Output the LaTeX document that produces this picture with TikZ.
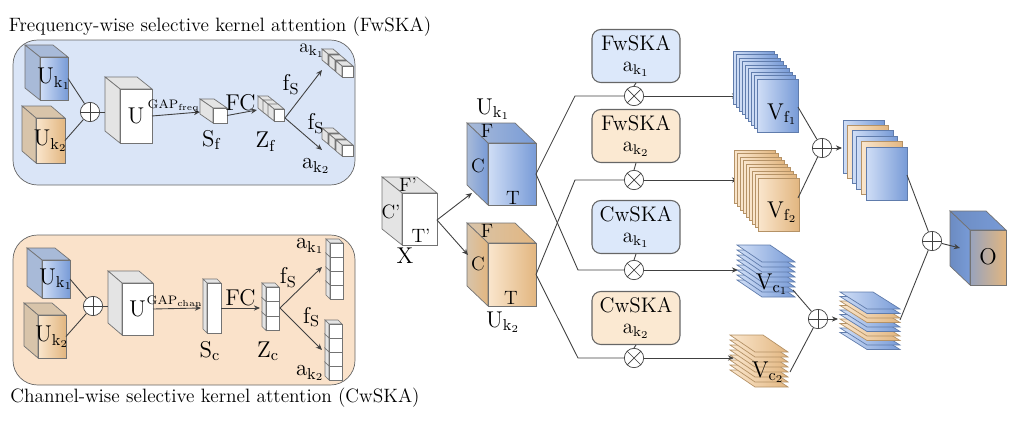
\documentclass[tikz,border=0pt]{standalone}
\usetikzlibrary{arrows.meta,shapes.geometric}
\definecolor{bluefr}{RGB}{120,155,215}
\definecolor{bluelt}{RGB}{208,222,246}
\definecolor{blueside}{RGB}{168,186,216}
\definecolor{tanfr}{RGB}{226,182,128}
\definecolor{tanlt}{RGB}{250,230,205}
\definecolor{tanside}{RGB}{216,196,170}
\definecolor{panelblue}{RGB}{218,229,247}
\definecolor{panelorange}{RGB}{250,226,202}
\definecolor{boxblue}{RGB}{220,232,250}
\definecolor{boxtan}{RGB}{251,233,210}
\definecolor{greyside}{RGB}{228,228,228}

% cuboid: name, x0, y0, x1, y1 (front face), dx, dy, front style, side style
\newcommand{\cuboid}[9]{%
  \draw[#9] (#2,#3) -- (#2-#6,#3-#7) -- (#4-#6,#3-#7) -- (#4,#3) -- cycle;
  \draw[#9] (#2,#3) -- (#2-#6,#3-#7) -- (#2-#6,#5-#7) -- (#2,#5) -- cycle;
  \draw[#8] (#2,#3) rectangle (#4,#5);
  \coordinate (#1) at ({(#2+#4)/2},{(#3+#5)/2});
  \coordinate (#1-r) at (#4,{(#3+#5)/2});
  \coordinate (#1-l) at ({#2-#6/2},{(#3+#5)/2-#7/2});
}
% stack of pages: front x0, y0, w, h, count, step x, step y, colour
\newcommand{\pagestack}[8]{%
  \foreach \i in {#5,...,0}
    \draw[draw=#8fr!80!black, left color=#8lt, right color=#8fr]
      (#1-\i*#6,#2-\i*#7) rectangle ++(#3,#4);
}

\tikzset{
  edge/.style={draw=black!75, line width=0.5pt},
  arr/.style={edge, -{Stealth[length=3.5pt,width=3pt]}},
  oplus/.style={circle, draw=black!75, fill=white, minimum size=11pt, inner sep=0pt,
    path picture={\draw[black!75] (path picture bounding box.north) -- (path picture bounding box.south)
      (path picture bounding box.west) -- (path picture bounding box.east);}},
  otimes/.style={circle, draw=black!75, fill=white, minimum size=11pt, inner sep=0pt,
    path picture={\draw[black!75] (path picture bounding box.north west) -- (path picture bounding box.south east)
      (path picture bounding box.south west) -- (path picture bounding box.north east);}},
  skabox/.style={draw=black!60, rounded corners=5pt, align=center,
    minimum width=1.76cm, minimum height=0.94cm, line width=0.6pt},
  lbl/.style={font=\fontsize{11}{12}\selectfont, inner sep=1pt},
  big/.style={font=\fontsize{13}{14}\selectfont, inner sep=1pt},
  small/.style={font=\scriptsize, inner sep=1pt},
  bluecube/.style={draw=black!55, left color=bluelt, right color=bluefr},
  bluesd/.style={draw=black!55, fill=blueside},
  tancube/.style={draw=black!55, left color=tanlt, right color=tanfr},
  tansd/.style={draw=black!55, fill=tanside},
  whcube/.style={draw=black!55, fill=white},
  whsd/.style={draw=black!55, fill=greyside},
}

\begin{document}
\begin{tikzpicture}[x=0.02cm,y=-0.02cm]
\useasboundingbox (0,0) rectangle (1022,426);

% ---- FwSKA panel
\node[lbl] (titlef) at (220,27) {Frequency-wise selective kernel attention (FwSKA)};
\draw[fill=panelblue, draw=black!60, rounded corners=14pt] (13,40) rectangle (355,185);
\cuboid{fu1}{40}{57}{68}{100}{15}{12}{bluecube}{bluesd}
\node[big] at (fu1) {U$_{\mathrm{k_1}}$};
\cuboid{fu2}{36}{118}{65}{163}{14}{12}{tancube}{tansd}
\node[big] at (fu2) {U$_{\mathrm{k_2}}$};
\node[oplus] (fp) at (90,112) {};
\draw[edge] (fu1-r) -- (fp);
\draw[edge] (fu2-r) -- (fp);
\cuboid{fu}{120}{89}{152}{143}{15}{12}{whcube}{whsd}
\node[big] at (fu) {U};
\draw[edge] (fp) -- (105,112);
\cuboid{fs}{213}{108}{227}{123}{13}{9}{whcube}{whsd}
\draw[arr] (fu-r) -- node[small, above, pos=0.45] {GAP$_{\mathrm{freq}}$} (200,112);
\node[big] at (212,140) {S$_{\mathrm{f}}$};
\foreach \i in {0,1,2}
  \cuboid{fz\i}{264+5*\i}{101+4*\i}{274+5*\i}{113+4*\i}{6}{5}{whcube}{whsd};
\draw[arr] (fs-r) -- node[big, above, pos=0.45] {FC} (257,110);
\node[big] at (266,142) {Z$_{\mathrm{f}}$};
\coordinate (fzo) at (285,118);
\foreach \i in {0,1,2}
  \cuboid{fa\i}{328+7*\i}{54+6*\i}{339+7*\i}{65+6*\i}{6}{5}{whcube}{whsd};
\foreach \i in {0,1,2}
  \cuboid{fb\i}{328+7*\i}{133+6*\i}{339+7*\i}{144+6*\i}{6}{5}{whcube}{whsd};
\draw[arr] (fzo) -- node[big, above left, pos=0.45] {f$_{\mathrm{S}}$} (322,70);
\draw[arr] (fzo) -- node[big, above right, pos=0.55] {f$_{\mathrm{S}}$} (322,150);
\node[lbl] at (312,51) {a$_{\mathrm{k_1}}$};
\node[big] at (316,166) {a$_{\mathrm{k_2}}$};

% ---- CwSKA panel
\draw[fill=panelorange, draw=black!60, rounded corners=14pt] (13,235) rectangle (355,385);
\node[lbl] (titlec) at (215,398) {Channel-wise selective kernel attention (CwSKA)};
\cuboid{cu1}{42}{260}{70}{298}{15}{12}{bluecube}{bluesd}
\node[big] at (cu1) {U$_{\mathrm{k_1}}$};
\cuboid{cu2}{38}{315}{66}{358}{14}{12}{tancube}{tansd}
\node[big] at (cu2) {U$_{\mathrm{k_2}}$};
\node[oplus] (cp) at (93,306) {};
\draw[edge] (cu1-r) -- (cp);
\draw[edge] (cu2-r) -- (cp);
\cuboid{cu}{122}{283}{153}{335}{14}{12}{whcube}{whsd}
\node[big] at (cu) {U};
\draw[edge] (cp) -- (108,306);
\cuboid{cs}{207}{283}{221}{333}{4}{4}{whcube}{whsd}
\draw[arr] (cu-r) -- node[small, above, pos=0.45] {GAP$_{\mathrm{chan}}$} (201,308);
\node[big] at (210,351) {S$_{\mathrm{c}}$};
\foreach \i in {2,1,0}
  \cuboid{cz\i}{266}{287+14.5*\i}{279}{301.5+14.5*\i}{4}{4}{whcube}{whsd};
\draw[arr] (cs-r) -- node[big, above] {FC} (260,308);
\node[big] at (268,351) {Z$_{\mathrm{c}}$};
\coordinate (czo) at (280,308);
\foreach \i in {3,2,1,0}
  \cuboid{ca\i}{330}{243+14*\i}{343}{257+14*\i}{4}{4}{whcube}{whsd};
\foreach \i in {3,2,1,0}
  \cuboid{cb\i}{329}{324+14*\i}{342}{338+14*\i}{4}{4}{whcube}{whsd};
\draw[arr] (czo) -- node[big, above left, pos=0.45] {f$_{\mathrm{S}}$} (322,267);
\draw[arr] (czo) -- node[big, above right, pos=0.5] {f$_{\mathrm{S}}$} (322,350);
\node[big] at (310,246) {a$_{\mathrm{k_1}}$};
\node[big] at (310,373) {a$_{\mathrm{k_2}}$};

% ---- main branch
\cuboid{x}{402}{193}{437}{245}{20}{16}{whcube}{whsd}
\node[lbl] at (408,185) {F'};
\node[lbl] at (391,212) {C'};
\node[lbl] at (421,236) {T'};
\node[big] (xl) at (405,256) {X};
\coordinate (xo) at (437,220);
\cuboid{k1}{488}{143}{536}{205}{21}{20}{bluecube}{draw=black!55, left color=blueside, right color=bluefr}
\node[big] at (493,109) {U$_{\mathrm{k_1}}$};
\node[lbl] at (487,131) {F};
\node[lbl] at (478,166) {C};
\node[lbl] at (513,198) {T};
\cuboid{k2}{488}{243}{536}{306}{21}{20}{tancube}{draw=black!55, left color=tanside, right color=tanfr}
\node[big] at (503,322) {U$_{\mathrm{k_2}}$};
\node[lbl] at (487,231) {F};
\node[lbl] at (478,264) {C};
\node[lbl] at (511,298) {T};
\draw[arr] (xo) -- (472,193);
\draw[arr] (xo) -- (468,255);

% attention boxes and products
\foreach \n/\t/\s/\cl/\y in {1/FwSKA/1/boxblue/56, 2/FwSKA/2/boxtan/136, 3/CwSKA/1/boxblue/227, 4/CwSKA/2/boxtan/318}
  \node[skabox, fill=\cl, font=\fontsize{12}{13}\selectfont] (b\n) at (636,\y) {\t\\[-1pt]a$_{\mathrm{k_\s}}$};
\foreach \n/\y in {1/96, 2/180, 3/270, 4/358} {
  \node[otimes] (m\n) at (634,\y) {};
  \draw[edge] (b\n.south) -- (m\n.north);
}
\draw[edge] (k1-r) -- (575,96) -- (m1);
\draw[edge] (k1-r) -- (578,270) -- (m3);
\draw[edge] (k2-r) -- (575,180) -- (m2);
\draw[edge] (k2-r) -- (578,358) -- (m4);
\coordinate (vf1) at (738,96);
\coordinate (vf2) at (738,180);
\coordinate (vc1) at (738,270);
\coordinate (vc2) at (734,358);
\draw[arr] (m1) -- (vf1);
\draw[arr] (m2) -- (vf2);
\draw[arr] (m3) -- (vc1);
\draw[arr] (m4) -- (vc2);

% feature maps
\pagestack{757}{79}{41}{53}{8}{3}{3.5}{blue}
\node[big] at (782,114) {V$_{\mathrm{f_1}}$};
\pagestack{758}{178}{41}{53}{8}{3}{3.5}{tan}
\node[big] at (782,212) {V$_{\mathrm{f_2}}$};
\foreach \i in {7,...,0}
  \draw[draw=bluefr!80!black, left color=bluelt, right color=bluefr]
    (737,245+\i*5) -- ++(33,0) -- ++(25,17) -- ++(-33,0) -- cycle;
\node[big] at (772,284) {V$_{\mathrm{c_1}}$};
\foreach \i in {7,...,0}
  \draw[draw=tanfr!80!black, left color=tanlt, right color=tanfr]
    (730,335+\i*5) -- ++(33,0) -- ++(25,17) -- ++(-33,0) -- cycle;
\node[big] at (768,372) {V$_{\mathrm{c_2}}$};

% fusion
\node[oplus] (p1) at (822,148) {};
\draw[edge] (798,107) -- (p1);
\draw[edge] (798,198) -- (p1);
\foreach \i/\cl in {5/blue,4/tan,3/blue,2/blue,1/tan,0/blue}
  \draw[draw=\cl fr!80!black, left color=\cl lt, right color=\cl fr]
    (866-\i*4.6,147-\i*5.4) rectangle ++(41,53);
\draw[arr] (p1) -- (842,148);
\node[oplus] (p2) at (818,319) {};
\draw[edge] (793,290) -- (p2);
\draw[edge] (790,372) -- (p2);
\foreach \i/\cl in {9/blue,8/blue,7/tan,6/tan,5/blue,4/blue,3/tan,2/tan,1/blue,0/blue}
  \draw[draw=\cl fr!80!black, left color=\cl lt, right color=\cl fr]
    (840,292+\i*4.5) -- ++(33,0) -- ++(27,17) -- ++(-33,0) -- cycle;
\draw[arr] (p2) -- (838,319);
\node[oplus] (p3) at (932,241) {};
\draw[edge] (907,175) -- (p3);
\draw[edge] (900,320) -- (p3);
\cuboid{o}{970}{230}{1006}{285}{20}{19}{draw=black!55, left color=bluefr!70!tanfr, right color=tanfr}{draw=black!55, left color=bluefr!90!black, right color=bluefr}
\node[big] at (988,257) {O};
\draw[arr] (p3) -- (o-l);
\end{tikzpicture}
\end{document}
